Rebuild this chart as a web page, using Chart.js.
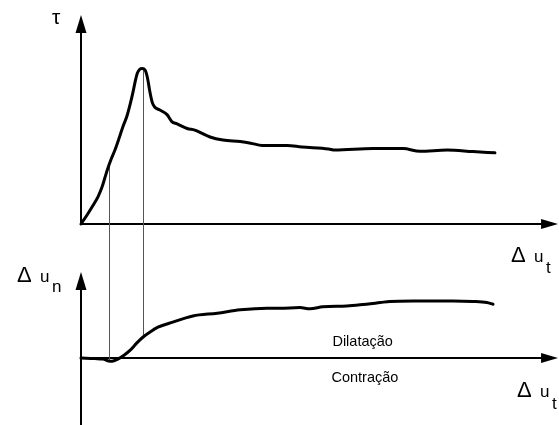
<!DOCTYPE html>
<html>
<head>
<meta charset="utf-8">
<script src="https://cdn.jsdelivr.net/npm/chart.js@4/dist/chart.umd.min.js"></script>
<style>
  html, body { margin: 0; padding: 0; background: #fff; }
  #wrap { width: 559px; height: 425px; position: relative; }
</style>
</head>
<body>
<div id="wrap"><canvas id="c"></canvas></div>
<script>
// Shear stress τ against tangential displacement Δu_t (arbitrary units)
const tauSlip = [0, 0.13, 0.25, 0.36, 0.44, 0.50, 0.56, 0.63, 0.71, 0.80, 0.88, 0.96, 1.03, 1.09, 1.13, 1.18,
  1.23, 1.28, 1.34, 1.39, 1.44, 1.49, 1.54, 1.65, 1.80, 1.90, 2.01, 2.22, 2.38, 2.49, 2.70, 2.97, 3.33, 3.55, 3.79, 4.31,
  4.62, 5.18, 5.31, 6.11, 6.74, 7.09, 7.66, 8.20, 8.66];
const tauValues = [0, 0.06, 0.12, 0.18, 0.24, 0.30, 0.36, 0.42, 0.48, 0.56, 0.635, 0.70, 0.78, 0.86, 0.92, 0.98,
  1.005, 1.01, 1.0, 0.95, 0.86, 0.79, 0.76, 0.74, 0.71, 0.665, 0.65, 0.62, 0.61, 0.595, 0.565, 0.545, 0.535, 0.525, 0.51, 0.51,
  0.50, 0.487, 0.48, 0.49, 0.49, 0.472, 0.48, 0.47, 0.462];

// Normal displacement Δu_n against Δu_t (dilatancy above zero, contraction below)
const dilSlip = [0, 0.29, 0.46, 0.61, 0.69, 0.77, 0.90, 1.03, 1.17, 1.30, 1.44, 1.61, 1.92, 2.34, 2.85, 3.33, 3.89,
  4.16, 4.58, 4.79, 5.06, 5.56, 5.84, 6.26, 6.46, 6.95, 7.78, 8.20, 8.49, 8.62];
const dilValues = [0, -0.01, -0.02, -0.06, -0.05, -0.02, 0.05, 0.14, 0.27, 0.375, 0.46, 0.55, 0.64, 0.75, 0.80, 0.86, 0.89,
  0.89, 0.90, 0.88, 0.915, 0.93, 0.95, 0.99, 1.01, 1.02, 1.02, 1.01, 0.99, 0.96];

// Vertical guides linking the two curves
const guideSlip = [0.59, 1.29];
const guideTau = [0.39, 1.0];
const guideDil = [-0.045, 0.39];

// Axis extents (arrow tips)
const slipAxisEnd = 9.98;
const tauAxisTop = 1.357;
const dilAxisTop = 1.536;

// Text
const tauLabel = 'τ';
const dilLabel = ['Δ', 'u', 'n'];
const slipLabel = ['Δ', 'u', 't'];
const zoneAbove = 'Dilatação';
const zoneBelow = 'Contração';

const FONT = '"Liberation Sans", Arial, sans-serif';

function toPoints(xs, ys) { return xs.map((x, i) => ({ x: x, y: ys[i] })); }

function arrowHead(ctx, x, y, dir, len, half) {
  ctx.beginPath();
  if (dir === 'up') {
    ctx.moveTo(x, y); ctx.lineTo(x - half, y + len); ctx.lineTo(x + half, y + len);
  } else {
    ctx.moveTo(x, y); ctx.lineTo(x - len, y - half); ctx.lineTo(x - len, y + half);
  }
  ctx.closePath();
  ctx.fill();
}

function deltaLabel(ctx, parts, x, y, sub) {
  ctx.font = '22px ' + FONT;
  ctx.fillText(parts[0], x - 1, y);
  ctx.font = '17px ' + FONT;
  ctx.fillText(parts[1], x + 22, y);
  ctx.fillText(parts[2], x + 34, y + sub);
}

const axesPlugin = {
  id: 'sketchAxes',
  beforeDatasetsDraw(chart) {
    const ctx = chart.ctx;
    const xs = chart.scales.x, yT = chart.scales.yT, yB = chart.scales.yB;
    const x0 = xs.getPixelForValue(0), xEnd = xs.getPixelForValue(slipAxisEnd);
    const t0 = yT.getPixelForValue(0), tTop = yT.getPixelForValue(tauAxisTop);
    const d0 = yB.getPixelForValue(0), dTop = yB.getPixelForValue(dilAxisTop);
    const dBottom = chart.chartArea.bottom;

    ctx.save();
    ctx.strokeStyle = '#000';
    ctx.fillStyle = '#000';
    ctx.lineWidth = 2;
    ctx.lineCap = 'butt';

    // upper pair of axes
    ctx.beginPath();
    ctx.moveTo(x0, t0); ctx.lineTo(xEnd - 12, t0);
    ctx.moveTo(x0, t0 + 1); ctx.lineTo(x0, tTop + 12);
    ctx.stroke();
    arrowHead(ctx, x0, tTop, 'up', 18, 5.5);
    arrowHead(ctx, xEnd, t0, 'right', 17, 5);

    // lower pair of axes
    ctx.beginPath();
    ctx.moveTo(x0, d0); ctx.lineTo(xEnd - 12, d0);
    ctx.moveTo(x0, dBottom); ctx.lineTo(x0, dTop + 12);
    ctx.stroke();
    arrowHead(ctx, x0, dTop, 'up', 18, 5.5);
    arrowHead(ctx, xEnd, d0, 'right', 17, 5);

    // guides
    ctx.strokeStyle = '#555';
    ctx.lineWidth = 1;
    guideSlip.forEach((s, i) => {
      const gx = Math.round(xs.getPixelForValue(s)) + 0.5;
      ctx.beginPath();
      ctx.moveTo(gx, yT.getPixelForValue(guideTau[i]));
      ctx.lineTo(gx, yB.getPixelForValue(guideDil[i]));
      ctx.stroke();
    });

    // labels
    ctx.fillStyle = '#000';
    ctx.textBaseline = 'alphabetic';
    ctx.textAlign = 'left';
    ctx.font = '21px ' + FONT;
    ctx.fillText(tauLabel, x0 - 29, tTop + 9);
    deltaLabel(ctx, slipLabel, xEnd - 46, t0 + 38, 11);
    deltaLabel(ctx, slipLabel, xEnd - 40, d0 + 39, 12);
    deltaLabel(ctx, dilLabel, x0 - 63, dTop + 10, 10);

    ctx.font = '14.5px ' + FONT;
    ctx.fillText(zoneAbove, xs.getPixelForValue(5.26), d0 - 12.5);
    ctx.fillText(zoneBelow, xs.getPixelForValue(5.24), d0 + 24);
    ctx.restore();
  }
};

const curveStyle = {
  borderColor: '#000',
  borderWidth: 3,
  pointRadius: 0,
  fill: false,
  cubicInterpolationMode: 'monotone',
  borderCapStyle: 'round',
  borderJoinStyle: 'round',
  clip: false
};

new Chart(document.getElementById('c'), {
  type: 'line',
  data: {
    datasets: [
      Object.assign({ label: 'τ', data: toPoints(tauSlip, tauValues), yAxisID: 'yT' }, curveStyle),
      Object.assign({ label: 'Δu_n', data: toPoints(dilSlip, dilValues), yAxisID: 'yB' }, curveStyle)
    ]
  },
  options: {
    responsive: true,
    maintainAspectRatio: false,
    animation: false,
    layout: { padding: { left: 81, right: 0, top: 0, bottom: 0 } },
    plugins: { legend: { display: false }, tooltip: { enabled: false } },
    scales: {
      x: { type: 'linear', min: 0, max: 10, display: false },
      yT: { type: 'linear', min: -201 / 154, max: 224 / 154, display: false },
      yB: { type: 'linear', min: -67 / 56, max: 358 / 56, display: false }
    }
  },
  plugins: [axesPlugin]
});
</script>
</body>
</html>
